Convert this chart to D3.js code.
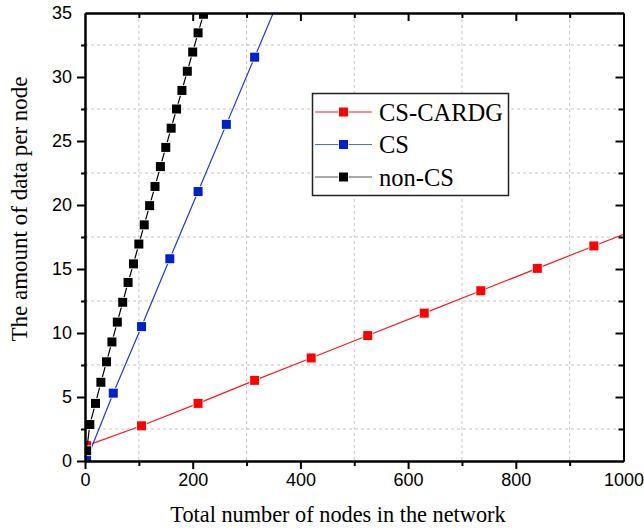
<!DOCTYPE html>
<html>
<head>
<meta charset="utf-8">
<script src="https://cdn.jsdelivr.net/npm/d3@7"></script>
<style>
  body { margin: 0; background: #fff; }
  svg { display: block; }
</style>
</head>
<body>
<div id="chart"></div>
<script>
// data
var cardg_x = [3, 105, 210, 315, 420, 525, 630, 735, 840, 945, 1050];
var cardg_y = [1.2, 2.75, 4.5, 6.3, 8.05, 9.8, 11.55, 13.3, 15.05, 16.8, 18.55];

var cs_x = [3, 52.5, 105, 157.5, 210, 262.5, 315, 367.5];
var cs_y = [0.1, 5.3, 10.5, 15.8, 21.05, 26.3, 31.55, 36.8];

var noncs_x = [3, 9, 19.5, 29.5, 40, 50, 60, 70, 80, 90, 100, 110, 120, 130, 140, 150, 160, 170, 180, 190, 200, 210, 220, 230];
var noncs_y = [0.8, 2.85, 4.5, 6.15, 7.75, 9.3, 10.85, 12.4, 13.95, 15.4, 16.95, 18.45, 19.95, 21.45, 23.0, 24.5, 26.0, 27.5, 28.95, 30.45, 31.95, 33.45, 34.9, 36.4];

var x_ticks = [0, 200, 400, 600, 800, 1000];
var y_ticks = [0, 5, 10, 15, 20, 25, 30, 35];
var x_minor = [100, 300, 500, 700, 900];
var y_minor = [2.5, 7.5, 12.5, 17.5, 22.5, 27.5, 32.5];

var series_names = ['CS-CARDG', 'CS', 'non-CS'];

var W = 644, H = 530;
var plot = { left: 85, right: 623.5, top: 13, bottom: 461 };

var x = d3.scaleLinear().domain([0, 1000]).range([plot.left, plot.right]);
var y = d3.scaleLinear().domain([0, 35]).range([plot.bottom, plot.top]);

var series = [
  { name: series_names[0], xs: cardg_x, ys: cardg_y, line: '#ff1a1a', fill: '#ff0000', legendLine: '#ff2020' },
  { name: series_names[1], xs: cs_x, ys: cs_y, line: '#1a3ae0', fill: '#0020c8', legendLine: '#4a68f0' },
  { name: series_names[2], xs: noncs_x, ys: noncs_y, line: '#000', fill: '#000', legendLine: '#555' }
];

var serif = '"Liberation Serif", "Times New Roman", serif';

var svg = d3.select('#chart').append('svg')
  .attr('width', W)
  .attr('height', H);

svg.append('defs').append('clipPath')
  .attr('id', 'plotclip')
  .append('rect')
  .attr('x', plot.left)
  .attr('y', plot.top)
  .attr('width', plot.right - plot.left)
  .attr('height', plot.bottom - plot.top);

// grid (minor positions only)
var grid = svg.append('g').attr('class', 'grid');
x_minor.forEach(function(v){
  grid.append('line')
    .attr('x1', x(v)).attr('x2', x(v))
    .attr('y1', plot.top).attr('y2', plot.bottom)
    .attr('stroke', '#c4c4c4').attr('stroke-width', 1)
    .attr('stroke-dasharray', '3,3');
});
y_minor.forEach(function(v){
  grid.append('line')
    .attr('x1', plot.left).attr('x2', plot.right)
    .attr('y1', y(v)).attr('y2', y(v))
    .attr('stroke', '#c4c4c4').attr('stroke-width', 1)
    .attr('stroke-dasharray', '3,3');
});

// series
var lines = svg.append('g').attr('clip-path', 'url(#plotclip)');
var line_gen = d3.line()
  .x(function(d){ return x(d[0]); })
  .y(function(d){ return y(d[1]); });

var ms = 9;
series.forEach(function(s){
  var pts = s.xs.map(function(v, i){ return [v, s.ys[i]]; });
  lines.append('path')
    .datum(pts)
    .attr('d', line_gen)
    .attr('fill', 'none')
    .attr('stroke', s.line)
    .attr('stroke-width', 1.2);
  lines.selectAll(null)
    .data(pts)
    .enter().append('rect')
    .attr('x', function(d){ return x(d[0]) - ms/2; })
    .attr('y', function(d){ return y(d[1]) - ms/2; })
    .attr('width', ms)
    .attr('height', ms)
    .attr('fill', s.fill)
    .attr('stroke', '#fff')
    .attr('stroke-width', 1.6)
    .attr('paint-order', 'stroke');
});

// axes
var tickFont = '"Liberation Sans", Arial, sans-serif';

var bottom = svg.append('g')
  .attr('transform', 'translate(0,' + plot.bottom + ')')
  .call(d3.axisBottom(x).tickValues(x_ticks).tickFormat(d3.format('d')).tickSize(8).tickSizeOuter(0).tickPadding(4));
bottom.selectAll('.tick')
  .filter(function(d){ return d === 1000; })
  .select('line').remove();

var left = svg.append('g')
  .attr('transform', 'translate(' + plot.left + ',0)')
  .call(d3.axisLeft(y).tickValues(y_ticks).tickSize(8).tickSizeOuter(0).tickPadding(5));
left.selectAll('.tick')
  .filter(function(d){ return d === 35; })
  .select('line').remove();

svg.append('g')
  .attr('transform', 'translate(0,' + plot.top + ')')
  .call(d3.axisTop(x).tickValues(x_ticks.slice(1, -1)).tickSize(-8).tickSizeOuter(0).tickFormat(''));

svg.append('g')
  .attr('transform', 'translate(' + plot.right + ',0)')
  .call(d3.axisRight(y).tickValues(y_ticks.slice(1, -1)).tickSize(-8).tickSizeOuter(0).tickFormat(''));

// minor ticks
svg.append('g')
  .attr('transform', 'translate(0,' + plot.bottom + ')')
  .call(d3.axisBottom(x).tickValues(x_minor).tickSize(5).tickSizeOuter(0).tickFormat(''));
svg.append('g')
  .attr('transform', 'translate(' + plot.left + ',0)')
  .call(d3.axisLeft(y).tickValues(y_minor).tickSize(4).tickSizeOuter(0).tickFormat(''));
svg.append('g')
  .attr('transform', 'translate(0,' + plot.top + ')')
  .call(d3.axisTop(x).tickValues(x_minor).tickSize(-5).tickSizeOuter(0).tickFormat(''));
svg.append('g')
  .attr('transform', 'translate(' + plot.right + ',0)')
  .call(d3.axisRight(y).tickValues(y_minor).tickSize(-5).tickSizeOuter(0).tickFormat(''));

svg.selectAll('.domain')
  .attr('stroke', '#000')
  .attr('stroke-width', 2);
svg.selectAll('.tick line')
  .attr('stroke', '#000')
  .attr('stroke-width', 2);
svg.selectAll('.tick text')
  .attr('fill', '#000')
  .style('font-family', tickFont)
  .style('font-size', '18px');

// axis titles
svg.append('text')
  .attr('x', 338)
  .attr('y', 522)
  .attr('text-anchor', 'middle')
  .style('font-family', serif)
  .style('font-size', '22.3px')
  .text('Total number of nodes in the network');

svg.append('text')
  .attr('transform', 'translate(27,209) rotate(-90)')
  .attr('text-anchor', 'middle')
  .style('font-family', serif)
  .style('font-size', '23px')
  .text('The amount of data per node');

// legend
var legend = svg.append('g').attr('class', 'legend');
legend.append('rect')
  .attr('x', 312.5)
  .attr('y', 93.5)
  .attr('width', 196)
  .attr('height', 102)
  .attr('fill', '#fff')
  .attr('stroke', '#222')
  .attr('stroke-width', 1.5);

series.forEach(function(s, i){
  var ly = 112 + i * 32.5;
  legend.append('line')
    .attr('x1', 315).attr('x2', 372)
    .attr('y1', ly).attr('y2', ly)
    .attr('stroke', s.legendLine)
    .attr('stroke-width', 1.2);
  legend.append('rect')
    .attr('x', 343.5 - ms/2)
    .attr('y', ly - ms/2)
    .attr('width', ms)
    .attr('height', ms)
    .attr('fill', s.fill)
    .attr('stroke', '#fff')
    .attr('stroke-width', 1.4)
    .attr('paint-order', 'stroke');
  legend.append('text')
    .attr('x', 379)
    .attr('y', ly + 8.5)
    .style('font-family', serif)
    .style('font-size', '24.5px')
    .text(s.name);
});
</script>
</body>
</html>
